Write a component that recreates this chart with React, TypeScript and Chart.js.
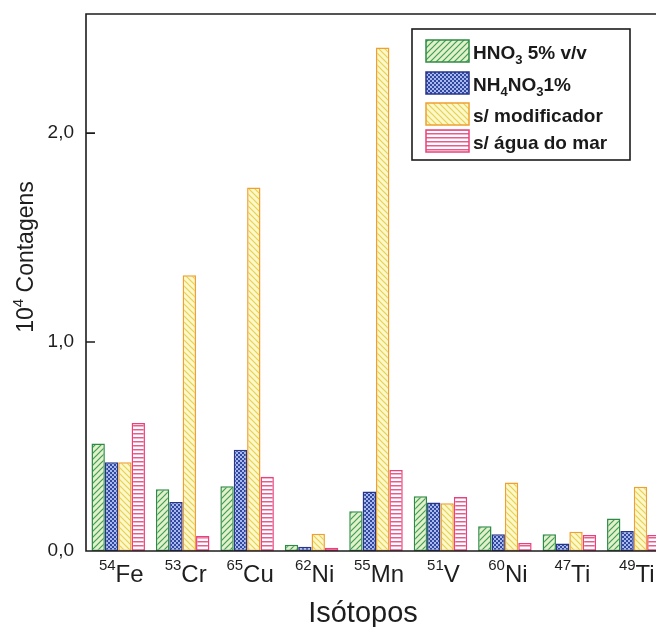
import { useEffect, useRef } from 'react';
import { Chart, registerables } from 'chart.js';
Chart.register(...registerables);

const massNumbers = ['54', '53', '65', '62', '55', '51', '60', '47', '49'];
const elements = ['Fe', 'Cr', 'Cu', 'Ni', 'Mn', 'V', 'Ni', 'Ti', 'Ti'];
const hno3 = [0.515, 0.295, 0.31, 0.03, 0.19, 0.262, 0.118, 0.08, 0.155];
const nh4no3 = [0.425, 0.235, 0.485, 0.02, 0.285, 0.232, 0.08, 0.036, 0.096];
const semModificador = [0.425, 1.32, 1.74, 0.082, 2.41, 0.228, 0.328, 0.092, 0.308];
const semAguaMar = [0.612, 0.072, 0.355, 0.015, 0.388, 0.258, 0.038, 0.077, 0.076];
const yTicks = [0, 1, 2];
const yMax = 2.57;
const xTitle = 'Isótopos';

type Seg = { text: string; size: number; dy: number; bold?: boolean };
const FONT = "'Liberation Sans', Arial, sans-serif";

const legendEntries: Seg[][] = [
  [{ text: 'HNO', size: 19, dy: 0, bold: true }, { text: '3', size: 13, dy: 5, bold: true }, { text: ' 5% v/v', size: 19, dy: 0, bold: true }],
  [{ text: 'NH', size: 19, dy: 0, bold: true }, { text: '4', size: 13, dy: 5, bold: true }, { text: 'NO', size: 19, dy: 0, bold: true }, { text: '3', size: 13, dy: 5, bold: true }, { text: '1%', size: 19, dy: 0, bold: true }],
  [{ text: 's/ modificador', size: 19, dy: 0, bold: true }],
  [{ text: 's/ água do mar', size: 19, dy: 0, bold: true }],
];
const yTitle: Seg[] = [
  { text: '10', size: 23, dy: 0 },
  { text: '4', size: 15, dy: -10 },
  { text: ' Contagens', size: 23, dy: 0 },
];

const borderColors = ['#2e8b45', '#28368a', '#f0a030', '#e8417c'];

function makePattern(kind: number): CanvasPattern | string {
  const c = document.createElement('canvas');
  const s = kind === 1 ? 4 : 6;
  const hs = kind === 3 ? 4 : s;
  c.width = s;
  c.height = hs;
  const g = c.getContext('2d')!;
  if (kind === 0) {
    g.fillStyle = '#e2f1c9';
    g.fillRect(0, 0, s, s);
    g.strokeStyle = '#3f9e55';
    g.lineWidth = 1.2;
    g.beginPath();
    g.moveTo(-1, s + 1); g.lineTo(s + 1, -1);
    g.moveTo(-s / 2 - 1, s / 2 + 1); g.lineTo(s / 2 + 1, -s / 2 - 1);
    g.moveTo(s / 2 - 1, s * 1.5 + 1); g.lineTo(s * 1.5 + 1, s / 2 - 1);
    g.stroke();
  } else if (kind === 1) {
    g.fillStyle = '#2f49a3';
    g.fillRect(0, 0, s, s);
    g.fillStyle = '#aab8ea';
    g.fillRect(0, 0, 2, 2);
    g.fillRect(2, 2, 2, 2);
  } else if (kind === 2) {
    g.fillStyle = '#fdf8c8';
    g.fillRect(0, 0, s, s);
    g.strokeStyle = '#e6d055';
    g.lineWidth = 1.2;
    g.beginPath();
    g.moveTo(-1, -1); g.lineTo(s + 1, s + 1);
    g.moveTo(-s / 2 - 1, s / 2 - 1); g.lineTo(s / 2 + 1, s * 1.5 + 1);
    g.moveTo(s / 2 - 1, -s / 2 - 1); g.lineTo(s * 1.5 + 1, s / 2 + 1);
    g.stroke();
  } else {
    g.fillStyle = '#ffffff';
    g.fillRect(0, 0, s, hs);
    g.fillStyle = '#ec5a8c';
    g.fillRect(0, 1, s, 1.5);
  }
  return g.createPattern(c, 'repeat') || '#ccc';
}

function drawRich(ctx: CanvasRenderingContext2D, segs: Seg[], x: number, y: number, align: 'left' | 'center') {
  let total = 0;
  const widths = segs.map((s) => {
    ctx.font = `${s.bold ? 'bold ' : ''}${s.size}px ${FONT}`;
    const w = ctx.measureText(s.text).width;
    total += w;
    return w;
  });
  let cx = align === 'center' ? x - total / 2 : x;
  ctx.textAlign = 'left';
  ctx.textBaseline = 'alphabetic';
  segs.forEach((s, i) => {
    ctx.font = `${s.bold ? 'bold ' : ''}${s.size}px ${FONT}`;
    ctx.fillText(s.text, cx, y + s.dy);
    cx += widths[i];
  });
}

export default function App() {
  const ref = useRef<HTMLCanvasElement>(null);
  useEffect(() => {
    if (!ref.current) return;
    const patterns = [0, 1, 2, 3].map(makePattern);
    const decor = {
      id: 'decor',
      afterDraw(chart: any) {
        const ctx: CanvasRenderingContext2D = chart.ctx;
        const { left, top, right, bottom } = chart.chartArea;
        const x = chart.scales.x;
        const y = chart.scales.y;
        ctx.save();
        ctx.strokeStyle = '#1c1c1c';
        ctx.lineWidth = 1.6;
        ctx.beginPath();
        ctx.moveTo(right, top); ctx.lineTo(left, top); ctx.lineTo(left, bottom); ctx.lineTo(right, bottom);
        yTicks.forEach((v) => {
          const py = y.getPixelForValue(v);
          ctx.moveTo(left, py); ctx.lineTo(left + 9, py);
        });
        ctx.stroke();
        ctx.fillStyle = '#1e1e1e';
        massNumbers.forEach((m, i) => {
          const px = x.getPixelForValue(i) + 3;
          drawRich(ctx, [{ text: m, size: 15, dy: -12 }, { text: elements[i], size: 24, dy: 0 }], px, 582, 'center');
        });
        drawRich(ctx, [{ text: xTitle, size: 29, dy: 0 }], 363, 622, 'center');
        ctx.save();
        ctx.translate(33, 257);
        ctx.rotate(-Math.PI / 2);
        drawRich(ctx, yTitle, 0, 0, 'center');
        ctx.restore();
        // legend
        ctx.fillStyle = '#fff';
        ctx.fillRect(412, 29, 218, 131);
        ctx.lineWidth = 1.6;
        ctx.strokeStyle = '#1c1c1c';
        ctx.strokeRect(412, 29, 218, 131);
        const rowTops = [40, 72, 103, 130];
        rowTops.forEach((t, i) => {
          ctx.fillStyle = patterns[i] as any;
          ctx.fillRect(426, t, 43, 22);
          ctx.strokeStyle = borderColors[i];
          ctx.lineWidth = 1.5;
          ctx.strokeRect(426, t, 43, 22);
          ctx.fillStyle = '#1a1a1a';
          drawRich(ctx, legendEntries[i], 473, t + 18.5, 'left');
        });
        ctx.restore();
      },
    };
    const data = [hno3, nh4no3, semModificador, semAguaMar];
    const chart = new Chart(ref.current, {
      type: 'bar',
      data: {
        labels: massNumbers.map((m, i) => m + elements[i]),
        datasets: data.map((d, i) => ({
          label: String(i),
          data: d,
          backgroundColor: patterns[i] as any,
          borderColor: borderColors[i],
          borderWidth: 1.5,
          borderSkipped: false,
          categoryPercentage: 0.83,
          barPercentage: 1,
        })),
      },
      options: {
        animation: false,
        responsive: false,
        devicePixelRatio: 1,
        layout: { padding: { top: 14, left: 0, right: 0, bottom: 0 } },
        plugins: { legend: { display: false }, tooltip: { enabled: false } },
        scales: {
          x: {
            ticks: { display: false },
            grid: { display: false, drawTicks: false },
            border: { display: false },
            afterFit: (s: any) => { s.height = 76; s.paddingLeft = 0; s.paddingRight = 0; },
          },
          y: {
            min: 0,
            max: yMax,
            grid: { display: false, drawTicks: false },
            border: { display: false },
            afterBuildTicks: (s: any) => { s.ticks = yTicks.map((v) => ({ value: v })); },
            ticks: {
              padding: 12,
              color: '#1e1e1e',
              font: { size: 19, family: FONT },
              callback: (v: any) => Number(v).toFixed(1).replace('.', ','),
            },
            afterFit: (s: any) => { s.width = 86; s.paddingTop = 0; s.paddingBottom = 0; },
          },
        },
      },
      plugins: [decor],
    });
    return () => chart.destroy();
  }, []);
  return (
    <div style={{ position: 'fixed', left: 0, top: 0, width: 656, height: 627, overflow: 'hidden', background: '#fff' }}>
      <canvas ref={ref} width={666} height={627} style={{ display: 'block', width: 666, height: 627 }} />
    </div>
  );
}
